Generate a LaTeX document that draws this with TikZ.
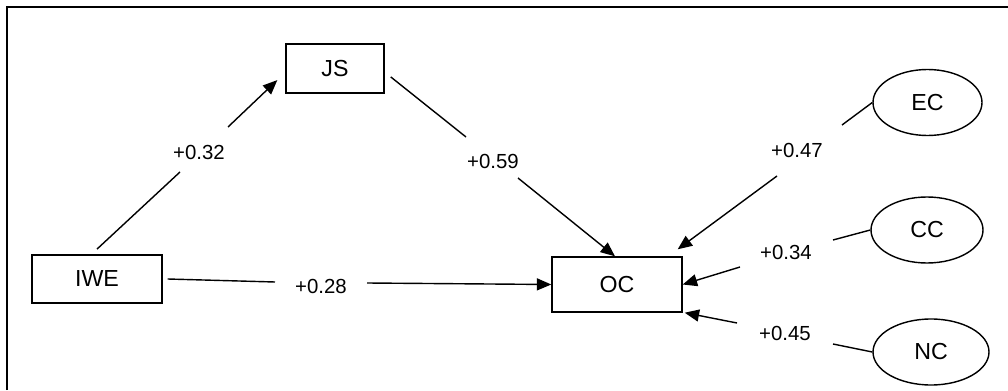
\documentclass[tikz,border=0pt]{standalone}
\usepackage{fontspec}
\setmainfont{Liberation Sans}
\usetikzlibrary{shapes.geometric, arrows.meta, calc}

\begin{document}
\begin{tikzpicture}[
  varbox/.style={draw, line width=1pt, minimum width=3.25cm, minimum height=1.2cm, inner sep=2pt, font=\fontsize{16.5}{18}\selectfont},
  latent/.style={draw, ellipse, line width=1pt, minimum width=2.8cm, minimum height=1.65cm, inner sep=1pt, font=\fontsize{16.5}{18}\selectfont},
  coef/.style={font=\fontsize{14.5}{16}\selectfont, inner sep=1pt},
  link/.style={line width=1pt},
  arr/.style={line width=1pt, -{Triangle[length=0.36cm, width=0.3cm]}}
]
  \useasboundingbox (0,0) rectangle (25.2,9.75);
  \draw[line width=1.4pt] (0.175,0) -- (0.175,9.575) -- (25.2,9.575);

  \node[varbox, minimum width=2.45cm, minimum height=1.225cm] (js) at (8.375, 8.0375) {JS};
  \node[varbox] (iwe) at (2.425, 2.775) {IWE};
  \node[varbox, minimum height=1.375cm] (oc) at (15.425, 2.6375) {OC};
  \node[latent, minimum width=2.725cm] (ec) at (23.1875, 7.1875) {EC};
  \node[latent] (cc) at (23.175, 4.0) {CC};
  \node[latent, minimum width=2.9cm] (nc) at (23.275, 0.95) {NC};

  \node[coef] (w32) at (4.975, 5.95) {+0.32};
  \node[coef] (w28) at (8.025, 2.6) {+0.28};
  \node[coef] (w59) at (12.325, 5.725) {+0.59};
  \node[coef] (w47) at (19.925, 6.0) {+0.47};
  \node[coef] (w34) at (19.65, 3.45) {+0.34};
  \node[coef] (w45) at (19.625, 1.425) {+0.45};

  \coordinate (js-a) at (4.5, 5.45);
  \coordinate (js-b) at (5.7, 6.575);
  \coordinate (oc-a) at (6.875, 2.7);
  \coordinate (oc-b) at (9.175, 2.675);
  \coordinate (sat-a) at (11.65, 6.325);
  \coordinate (sat-b) at (12.95, 5.3);
  \coordinate (ec-a) at (21.05, 6.625);
  \coordinate (ec-b) at (19.425, 5.35);
  \coordinate (cc-a) at (20.825, 3.75);
  \coordinate (cc-b) at (18.5, 3.075);
  \coordinate (nc-a) at (20.825, 1.15);
  \coordinate (nc-b) at (18.425, 1.675);

  \draw[link] ([yshift=0.13cm]iwe.north) -- (js-a);
  \draw[arr] (js-b) -- ([shift={(-0.2,-0.29)}]js.west);
  \draw[link] ([xshift=0.125cm]iwe.east) -- (oc-a);
  \draw[arr] (oc-b) -- (oc.west);
  \draw[link] ([shift={(0.15,-0.21)}]js.east) -- (sat-a);
  \draw[arr] (sat-b) -- ([xshift=-0.05cm]oc.north);
  \draw[link] (ec.west) -- (ec-a);
  \draw[arr] (ec-b) -- ([shift={(-0.125,0.175)}]oc.north east);
  \draw[link] (cc.west) -- (cc-a);
  \draw[arr] (cc-b) -- (oc.east);
  \draw[link] (nc.west) -- (nc-a);
  \draw[arr] (nc-b) -- ([xshift=0.05cm]oc.south east);
\end{tikzpicture}
\end{document}
